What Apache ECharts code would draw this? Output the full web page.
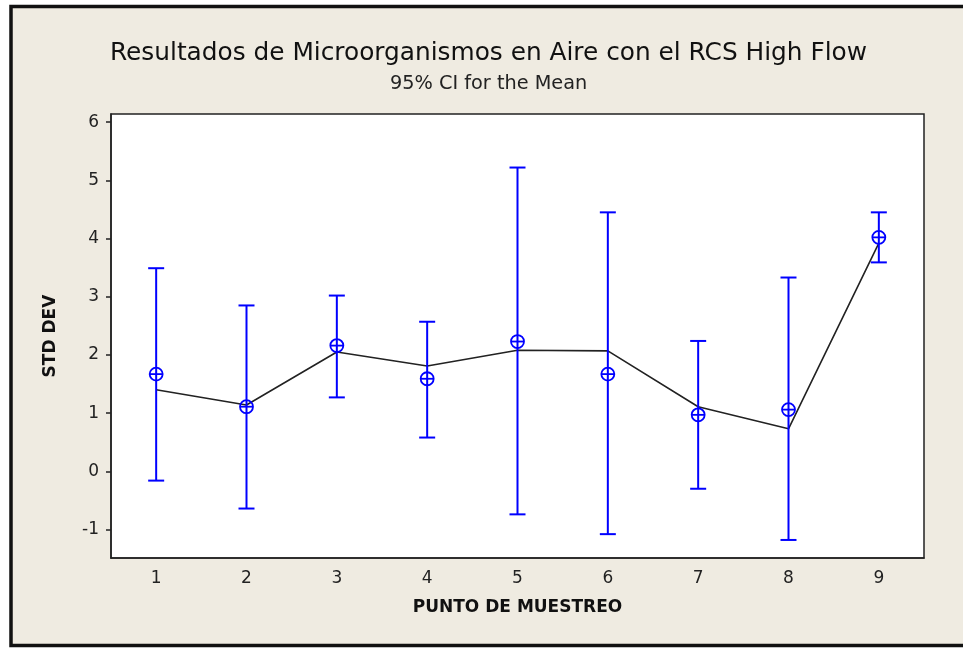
<!DOCTYPE html>
<html>
<head>
<meta charset="utf-8">
<script src="https://cdn.jsdelivr.net/npm/echarts@6/dist/echarts.min.js"></script>
<style>
html, body { margin: 0; padding: 0; background: #ffffff; }
#main { width: 963px; height: 648px; }
</style>
</head>
<body>
<div id="main"></div>
<script>
// puntos de muestreo
var puntos = ["1", "2", "3", "4", "5", "6", "7", "8", "9"];
// media y limites del IC 95%
var medias = [1.67, 1.11, 2.16, 1.59, 2.23, 1.67, 0.97, 1.06, 4.02];
var limInf = [-0.16, -0.64, 1.27, 0.58, -0.74, -1.08, -0.30, -1.18, 3.59];
var limSup = [3.49, 2.85, 3.02, 2.57, 5.22, 4.45, 2.24, 3.33, 4.45];
// linea negra que une los puntos
var linea = [1.40, 1.14, 2.05, 1.81, 2.08, 2.07, 1.11, 0.73, 3.92];
// marcas del eje y
var marcasY = [-1, 0, 1, 2, 3, 4, 5, 6];

var fuente = "'DejaVu Sans', sans-serif";
var azul = "#0000ff";

var intervalos = puntos.map(function (p, i) {
    return [i, limInf[i], limSup[i], medias[i]];
});

var chart = echarts.init(document.getElementById("main"));
chart.setOption({
    backgroundColor: "#ffffff",
    animation: false,
    graphic: [{
        type: "rect",
        z: -10,
        shape: { x: 11, y: 6.5, width: 960, height: 639 },
        style: { fill: "#efebe1", stroke: "#111111", lineWidth: 3.5 }
    }],
    title: [{
        text: "Resultados de Microorganismos en Aire con el RCS High Flow",
        left: 110,
        top: 41,
        padding: 0,
        textStyle: { fontFamily: fuente, fontSize: 24.8, fontWeight: "normal", color: "#111111" }
    }, {
        text: "95% CI for the Mean",
        left: 390,
        top: 74,
        padding: 0,
        textStyle: { fontFamily: fuente, fontSize: 19.3, fontWeight: "normal", color: "#222222" }
    }],
    grid: {
        left: 111, top: 114, right: 39, bottom: 90,
        show: true,
        backgroundColor: "#ffffff",
        borderColor: "#222222",
        borderWidth: 1.5
    },
    xAxis: {
        type: "category",
        data: puntos,
        boundaryGap: true,
        name: "PUNTO DE MUESTREO",
        nameLocation: "middle",
        nameGap: 41,
        nameTextStyle: { fontFamily: fuente, fontSize: 17, fontWeight: "bold", color: "#111111" },
        axisLine: { show: true, onZero: false, lineStyle: { color: "#222222", width: 1.5 } },
        axisTick: { alignWithLabel: true, length: 5, lineStyle: { color: "#222222", width: 1.5 } },
        axisLabel: { margin: 12, fontFamily: fuente, fontSize: 17, color: "#222222" },
        splitLine: { show: false }
    },
    yAxis: {
        type: "value",
        min: -1.49,
        max: 6.14,
        name: "STD DEV",
        nameLocation: "middle",
        nameGap: 52,
        nameTextStyle: { fontFamily: fuente, fontSize: 17, fontWeight: "bold", color: "#111111" },
        axisLine: { show: true, onZero: false, lineStyle: { color: "#222222", width: 1.5 } },
        axisTick: { show: true, length: 5, customValues: marcasY, lineStyle: { color: "#222222", width: 1.5 } },
        axisLabel: { margin: 12, customValues: marcasY, fontFamily: fuente, fontSize: 17, color: "#222222" },
        splitLine: { show: false }
    },
    series: [{
        type: "line",
        data: linea,
        symbol: "none",
        lineStyle: { color: "#222222", width: 1.6 },
        z: 2
    }, {
        type: "custom",
        data: intervalos,
        z: 3,
        renderItem: function (params, api) {
            var x = api.value(0);
            var sup = api.coord([x, api.value(2)]);
            var inf = api.coord([x, api.value(1)]);
            var med = api.coord([x, api.value(3)]);
            var cap = 8, r = 6.5;
            var est = { stroke: azul, lineWidth: 2, fill: null };
            return {
                type: "group",
                children: [
                    { type: "line", shape: { x1: sup[0], y1: sup[1], x2: inf[0], y2: inf[1] }, style: est },
                    { type: "line", shape: { x1: sup[0] - cap, y1: sup[1], x2: sup[0] + cap, y2: sup[1] }, style: est },
                    { type: "line", shape: { x1: inf[0] - cap, y1: inf[1], x2: inf[0] + cap, y2: inf[1] }, style: est },
                    { type: "circle", shape: { cx: med[0], cy: med[1], r: r }, style: { stroke: azul, lineWidth: 1.8, fill: "rgba(0,0,0,0)" } },
                    { type: "line", shape: { x1: med[0] - r, y1: med[1], x2: med[0] + r, y2: med[1] }, style: { stroke: azul, lineWidth: 1.8 } }
                ]
            };
        }
    }]
});
</script>
</body>
</html>
